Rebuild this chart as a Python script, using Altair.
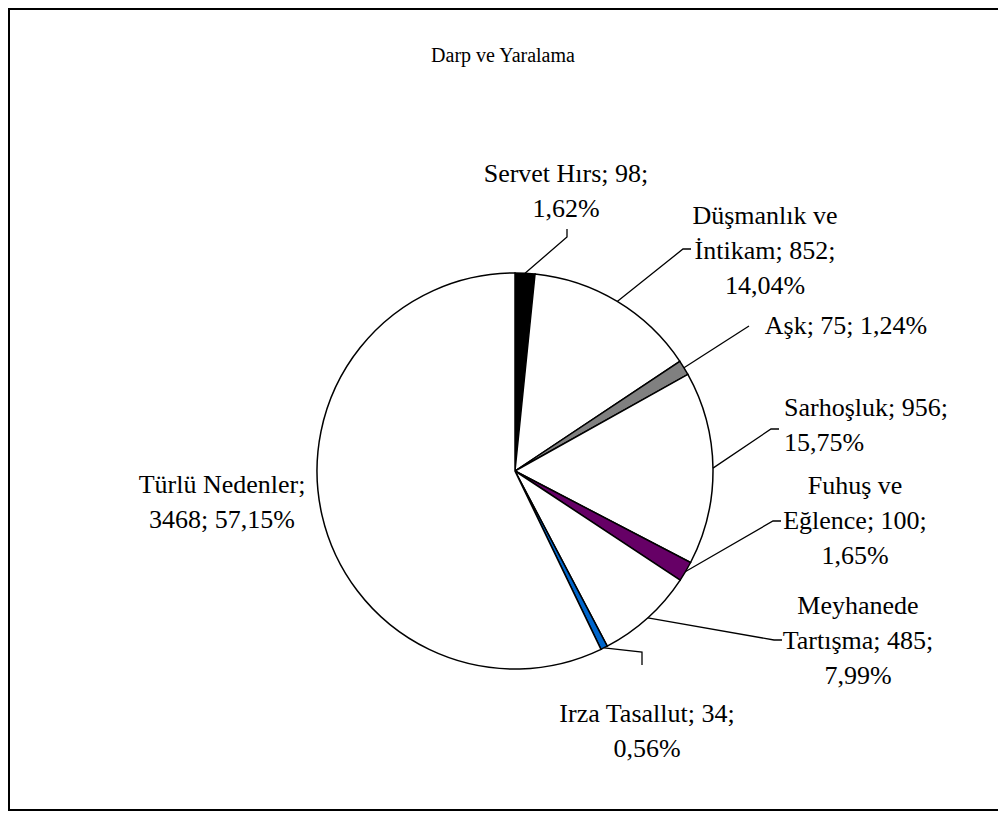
import altair as alt
import pandas as pd
import numpy as np

# ---------------- data ----------------
categories = ["Servet Hırs", "Düşmanlık ve İntikam", "Aşk", "Sarhoşluk",
              "Fuhuş ve Eğlence", "Meyhanede Tartışma", "Irza Tasallut", "Türlü Nedenler"]
values = [98, 852, 75, 956, 100, 485, 34, 3468]
label_names = ["Servet Hırs", "Düşmanlık ve\nİntikam", "Aşk", "Sarhoşluk",
               "Fuhuş ve\nEğlence", "Meyhanede\nTartışma", "Irza Tasallut", "Türlü Nedenler"]
sep_after_name = [" ", " ", " ", " ", " ", " ", " ", "\n"]
sep_after_value = ["\n", "\n", " ", "\n", "\n", "\n", "\n", " "]
title_text = "Darp ve Yaralama"

# ---------------- styles / layout ----------------
colors = ["#000000", "#ffffff", "#808080", "#ffffff", "#660066", "#ffffff", "#0066cc", "#ffffff"]
W, H = 990, 803
CX, CY, R = 507, 463, 198
FONT = "Liberation Serif"
# position of the first text line of every label (chart pixels)
label_pos = [(558, 166), (757, 208), (838, 318), (776, 400), (847, 478), (850, 598), (639, 706), (214, 477)]
label_align = ["center", "center", "center", "left", "center", "center", "center", "center"]
leader_elbow = [(559, 229), (675, 241), (741, 318), (763, 421), (765, 513), (766, 632), (634, 644), None]
leader_end = [(559, 221), (683, 241), (741, 318), (771, 421), (773, 513), (774, 632), (634, 657), None]

total = sum(values)
fmt_pct = lambda v: f"{v / total * 100:.2f}".replace(".", ",") + "%"
labels = [f"{n};{s1}{v};{s2}{fmt_pct(v)}" for n, v, s1, s2 in
          zip(label_names, values, sep_after_name, sep_after_value)]

pie_df = pd.DataFrame({"cat": categories, "value": values, "idx": range(len(values))})

lab_df = pd.DataFrame({"label": labels,
                       "al": label_align,
                       "px": [p[0] for p in label_pos],
                       "py": [p[1] for p in label_pos]})

# leader lines: from slice mid-angle on the rim to the label
cum = np.cumsum([0] + values)
rows = []
for i, c in enumerate(categories):
    if leader_end[i] is None:
        continue
    a = (cum[i] + cum[i + 1]) / 2 / total * 2 * np.pi
    pts = [(CX + R * np.sin(a), CY - R * np.cos(a)), leader_elbow[i], leader_end[i]]
    for k, (x, y) in enumerate(pts):
        rows.append({"cat": c, "k": k, "px": float(x), "py": float(y)})
lead_df = pd.DataFrame(rows)

pie = alt.Chart(pie_df).mark_arc(outerRadius=R, stroke="black", strokeWidth=1.5).encode(
    theta=alt.Theta("value:Q", stack=True),
    order=alt.Order("idx:Q"),
    color=alt.Color("cat:N", scale=alt.Scale(domain=categories, range=colors), legend=None),
    x=alt.value(CX), y=alt.value(CY),
)

leaders = alt.Chart(lead_df).mark_line(color="black", strokeWidth=1.3).encode(
    x=alt.X("px:Q", scale=None, axis=None),
    y=alt.Y("py:Q", scale=None, axis=None),
    detail="cat:N",
    order="k:Q",
)


def text_layer(al):
    return alt.Chart(lab_df).transform_filter(alt.datum.al == al).mark_text(
        font=FONT, fontSize=26, lineHeight=35, align=al,
        baseline="middle", lineBreak="\n", color="black").encode(
        x=alt.X("px:Q", scale=None, axis=None),
        y=alt.Y("py:Q", scale=None, axis=None),
        text="label:N",
    )


title = alt.Chart(pd.DataFrame({"t": [title_text]})).mark_text(
    font=FONT, fontSize=20, align="center", baseline="middle", color="black").encode(
    x=alt.value(495), y=alt.value(48), text="t:N")

one = pd.DataFrame({"a": [0]})
frame_top = alt.Chart(one).mark_rule(color="black", strokeWidth=2).encode(
    x=alt.value(0), x2=alt.value(W), y=alt.value(1))
frame_left = alt.Chart(one).mark_rule(color="black", strokeWidth=2).encode(
    x=alt.value(1), y=alt.value(0), y2=alt.value(H))
frame_bottom = alt.Chart(one).mark_rule(color="black", strokeWidth=2).encode(
    x=alt.value(0), x2=alt.value(W), y=alt.value(H - 1))

chart = alt.layer(pie, leaders, text_layer("center"), text_layer("left"), title,
                  frame_top, frame_left, frame_bottom).properties(
    width=W, height=H, padding=0, autosize=alt.AutoSizeParams(type="none"),
    background="white",
).configure_view(stroke=None)

chart.save("out.html", embed_options={"renderer": "svg", "actions": False})
